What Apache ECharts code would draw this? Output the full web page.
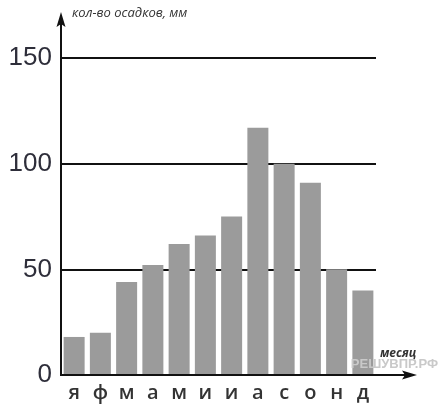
<!DOCTYPE html>
<html>
<head>
<meta charset="utf-8">
<script src="https://cdn.jsdelivr.net/npm/echarts@6/dist/echarts.min.js"></script>
<style>
html,body{margin:0;padding:0;background:#fff;}
#c{width:438px;height:412px;}
</style>
</head>
<body>
<div id="c"></div>
<script>
var months = ['я','ф','м','а','м','и','и','а','с','о','н','д'];
var precipitation = [18, 20, 44, 52, 62, 66, 75, 117, 100, 91, 50, 40];
var yTicks = [0, 50, 100, 150];
var yTitle = 'кол-во осадков, мм';
var xTitle = 'месяц';
var watermark = 'РЕШУВПР.РФ';

var chart = echarts.init(document.getElementById('c'));
chart.setOption({
  animation: false,
  backgroundColor: '#fff',
  grid: {left: 61, right: 62, top: 58, bottom: 37},
  xAxis: {
    type: 'category',
    data: months,
    axisLine: {show: false},
    axisTick: {show: false},
    axisLabel: {
      margin: 8,
      color: '#333',
      fontSize: 20,
      fontWeight: 600,
      fontFamily: 'Open Sans'
    },
    name: xTitle,
    nameLocation: 'end',
    nameGap: 4,
    nameTextStyle: {
      fontSize: 12, fontStyle: 'italic', fontWeight: 'bold', color: '#333', fontFamily: 'Open Sans',
      align: 'left', verticalAlign: 'bottom', padding: [0, 0, 15, 0]
    }
  },
  yAxis: {
    type: 'value',
    min: yTicks[0],
    max: yTicks[yTicks.length - 1],
    interval: 50,
    axisLine: {show: false},
    axisTick: {show: false},
    axisLabel: {
      margin: 9,
      color: '#2e2e3a',
      fontSize: 26,
      fontFamily: 'Liberation Sans'
    },
    splitLine: {lineStyle: {color: '#111', width: 2}},
    name: yTitle,
    nameLocation: 'end',
    nameGap: 38,
    nameTextStyle: {
      fontSize: 13, fontStyle: 'italic', color: '#333', fontFamily: 'Open Sans',
      align: 'left', padding: [0, 0, 0, 11]
    }
  },
  series: [{
    type: 'bar',
    data: precipitation,
    barWidth: '80%',
    itemStyle: {color: '#9b9b9b'}
  }]
});

var ox = 61, oy = chart.convertToPixel({yAxisIndex: 0}, 0);
var yTop = 12, xRight = 417;
chart.setOption({
  graphic: [
    {type: 'line', shape: {x1: ox, y1: oy + 1, x2: ox, y2: yTop + 8}, style: {stroke: '#111', lineWidth: 2}, z: 10},
    {type: 'polygon', shape: {points: [[ox, yTop], [ox - 4.5, yTop + 15], [ox, yTop + 12], [ox + 4.5, yTop + 15]]}, style: {fill: '#111'}, z: 10},
    {type: 'line', shape: {x1: ox - 1, y1: oy, x2: xRight - 8, y2: oy}, style: {stroke: '#111', lineWidth: 2}, z: 10},
    {type: 'polygon', shape: {points: [[xRight, oy], [xRight - 15, oy - 4.5], [xRight - 12, oy], [xRight - 15, oy + 4.5]]}, style: {fill: '#111'}, z: 10},
    {type: 'text', right: 0, top: 358, style: {text: watermark, fill: '#c9c9c9', fontSize: 13, fontWeight: 'bold', fontFamily: 'Liberation Sans'}, z: 5}
  ]
});
</script>
</body>
</html>
